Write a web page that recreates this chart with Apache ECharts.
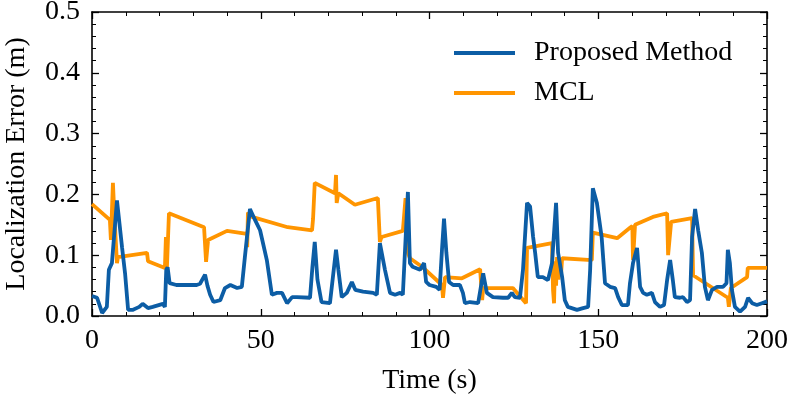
<!DOCTYPE html>
<html>
<head>
<meta charset="utf-8">
<script src="https://cdn.jsdelivr.net/npm/echarts@6/dist/echarts.min.js"></script>
<style>html,body{margin:0;padding:0;background:#fff}#c{width:789px;height:398px}</style>
</head>
<body>
<div id="c"></div>
<script>
const seriesNames = ['Proposed Method', 'MCL'];
const xTicks = [0, 50, 100, 150, 200];
const yTicks = [0.0, 0.1, 0.2, 0.3, 0.4, 0.5];

// [time (s), error (m)]
const proposedData = [[0,0.033],[1.5,0.03],[3,0.005],[4.4,0.015],[5,0.076],[5.9,0.087],[6.3,0.09],[7.4,0.19],[8.9,0.113],[9.8,0.07],[10.7,0.01],[12,0.01],[14,0.015],[15,0.02],[16.6,0.013],[18,0.015],[21,0.02],[21.6,0.015],[22,0.076],[22.4,0.08],[23,0.054],[25,0.051],[31,0.051],[32,0.053],[33.5,0.068],[34.2,0.05],[35,0.035],[36,0.023],[38,0.026],[39.4,0.046],[41,0.051],[43,0.046],[44.4,0.048],[45.3,0.097],[46.8,0.176],[48.3,0.158],[49.8,0.141],[51.8,0.092],[53.3,0.035],[54.8,0.038],[56.3,0.038],[57.8,0.021],[59.3,0.031],[60.7,0.031],[64.6,0.03],[65.3,0.08],[66,0.122],[66.8,0.06],[68,0.023],[70.5,0.021],[71.3,0.06],[72.3,0.109],[73,0.076],[74,0.031],[75.5,0.038],[77,0.056],[78,0.043],[80.3,0.04],[83.3,0.038],[84.4,0.035],[85.3,0.12],[86.8,0.076],[88.3,0.038],[89.8,0.035],[91.3,0.038],[92.1,0.035],[93.6,0.204],[94.2,0.087],[95,0.081],[97.2,0.076],[98.4,0.087],[99,0.056],[100,0.051],[102,0.048],[103,0.043],[103.7,0.109],[104.3,0.16],[105,0.104],[105.8,0.056],[107,0.051],[109,0.051],[109.9,0.038],[110.5,0.021],[112,0.023],[114.4,0.021],[115.9,0.07],[117,0.038],[118.8,0.031],[121.8,0.03],[123.3,0.03],[124.4,0.038],[125.3,0.031],[126.8,0.03],[127.7,0.076],[128.9,0.186],[129.8,0.18],[130.7,0.13],[131.3,0.104],[132.1,0.064],[133.6,0.064],[135.1,0.059],[136.3,0.087],[137.5,0.186],[138.1,0.104],[139.3,0.064],[140.1,0.026],[141,0.015],[143.7,0.01],[145.5,0.013],[147,0.015],[147.6,0.076],[148.4,0.21],[149.6,0.186],[151,0.13],[152,0.054],[153.5,0.048],[155,0.046],[155.9,0.031],[157,0.018],[158.8,0.018],[159.4,0.054],[160.3,0.087],[161.5,0.112],[162.4,0.048],[163.3,0.038],[164.4,0.035],[165.9,0.038],[166.8,0.023],[168.3,0.015],[169.5,0.018],[170.4,0.059],[171.3,0.092],[172.1,0.059],[172.7,0.031],[174.2,0.03],[175.1,0.031],[176.3,0.023],[177.2,0.026],[177.8,0.13],[178.7,0.176],[179.6,0.141],[180.7,0.104],[181.6,0.048],[182.5,0.026],[183.7,0.043],[185.2,0.048],[187,0.048],[188,0.054],[188.4,0.109],[189,0.087],[189.6,0.043],[190.5,0.015],[192,0.007],[193.5,0.015],[194.4,0.03],[195.6,0.021],[197,0.018],[198.5,0.021],[200,0.024]];

const mclData = [[0,0.184],[5.3,0.158],[5.6,0.125],[6.2,0.219],[6.6,0.17],[7.4,0.087],[7.7,0.097],[16.3,0.104],[16.6,0.09],[21.6,0.079],[21.9,0.13],[22.2,0.08],[22.8,0.169],[33.2,0.146],[33.8,0.089],[34.4,0.125],[40,0.14],[45.9,0.135],[46,0.113],[46.2,0.17],[47.4,0.163],[58,0.146],[65.2,0.141],[65.5,0.16],[66,0.219],[72,0.202],[72.3,0.232],[72.5,0.186],[73,0.202],[77.9,0.183],[84.7,0.194],[85,0.158],[85.3,0.122],[85.8,0.13],[92.1,0.14],[92.9,0.194],[93.6,0.104],[94.2,0.095],[97.8,0.081],[103.7,0.051],[104,0.03],[104.6,0.064],[109.6,0.062],[115,0.077],[115.6,0.026],[115.9,0.046],[124.7,0.046],[128.6,0.021],[128.9,0.112],[136.3,0.12],[136.6,0.043],[136.9,0.021],[137.2,0.09],[137.5,0.05],[137.8,0.097],[138.2,0.06],[138.6,0.095],[139,0.07],[139.3,0.095],[148.1,0.092],[148.4,0.137],[155.6,0.128],[159.4,0.145],[160.1,0.148],[160.3,0.092],[160.9,0.15],[166.2,0.163],[170.4,0.169],[170.7,0.1],[171.6,0.155],[177.8,0.161],[178.1,0.067],[188.4,0.03],[188.7,0.015],[189.3,0.046],[194.1,0.064],[194.3,0.079],[200,0.079]];

const FONT = 'Liberation Serif';
const FS = 28;
const axisCommon = {
  axisLine: { show: true, onZero: false, lineStyle: { color: '#000', width: 1.6 } },
  axisTick: { show: true, inside: true, length: 7, lineStyle: { color: '#000', width: 1.3 } },
  minorTick: { show: true, splitNumber: 5, length: 4, lineStyle: { color: '#000', width: 1 } },
  splitLine: { show: false },
  minorSplitLine: { show: false }
};

const chart = echarts.init(document.getElementById('c'), null, { renderer: 'canvas' });
chart.setOption({
  animation: false,
  backgroundColor: '#fff',
  grid: { left: 92, right: 22, top: 12, bottom: 82, containLabel: false, outerBoundsMode: 'none' },
  legend: {
    data: [
      { name: seriesNames[0], icon: 'rect' },
      { name: seriesNames[1], icon: 'rect' }
    ],
    orient: 'vertical',
    left: 449,
    top: 34,
    itemWidth: 61,
    itemHeight: 3.8,
    itemGap: 12,
    textStyle: { fontFamily: FONT, fontSize: FS, color: '#000', padding: [0, 0, 0, 14] }
  },
  xAxis: [
    Object.assign({
      type: 'value', min: xTicks[0], max: xTicks[xTicks.length - 1], interval: 50, position: 'bottom',
      name: 'Time (s)', nameLocation: 'middle', nameGap: 51,
      nameTextStyle: { fontFamily: FONT, fontSize: FS, color: '#000' },
      axisLabel: { show: true, margin: 11, fontFamily: FONT, fontSize: FS, color: '#000' }
    }, axisCommon),
    Object.assign({
      type: 'value', min: xTicks[0], max: xTicks[xTicks.length - 1], interval: 50, position: 'top',
      axisLabel: { show: false }
    }, axisCommon)
  ],
  yAxis: [
    Object.assign({
      type: 'value', min: yTicks[0], max: yTicks[yTicks.length - 1], interval: 0.1, position: 'left',
      name: 'Localization Error (m)', nameLocation: 'middle', nameGap: 61,
      nameTextStyle: { fontFamily: FONT, fontSize: FS, color: '#000' },
      axisLabel: { show: true, margin: 12, fontFamily: FONT, fontSize: FS, color: '#000',
        formatter: v => v.toFixed(1) }
    }, axisCommon),
    Object.assign({
      type: 'value', min: yTicks[0], max: yTicks[yTicks.length - 1], interval: 0.1, position: 'right',
      axisLabel: { show: false }
    }, axisCommon)
  ],
  series: [
    { name: seriesNames[0], type: 'line', data: proposedData, showSymbol: false, symbol: 'none',
      lineStyle: { color: '#0C5DA5', width: 3.8 }, itemStyle: { color: '#0C5DA5' }, z: 3 },
    { name: seriesNames[1], type: 'line', data: mclData, showSymbol: false, symbol: 'none',
      lineStyle: { color: '#FF9500', width: 3.8 }, itemStyle: { color: '#FF9500' }, z: 2 }
  ]
});
</script>
</body>
</html>
